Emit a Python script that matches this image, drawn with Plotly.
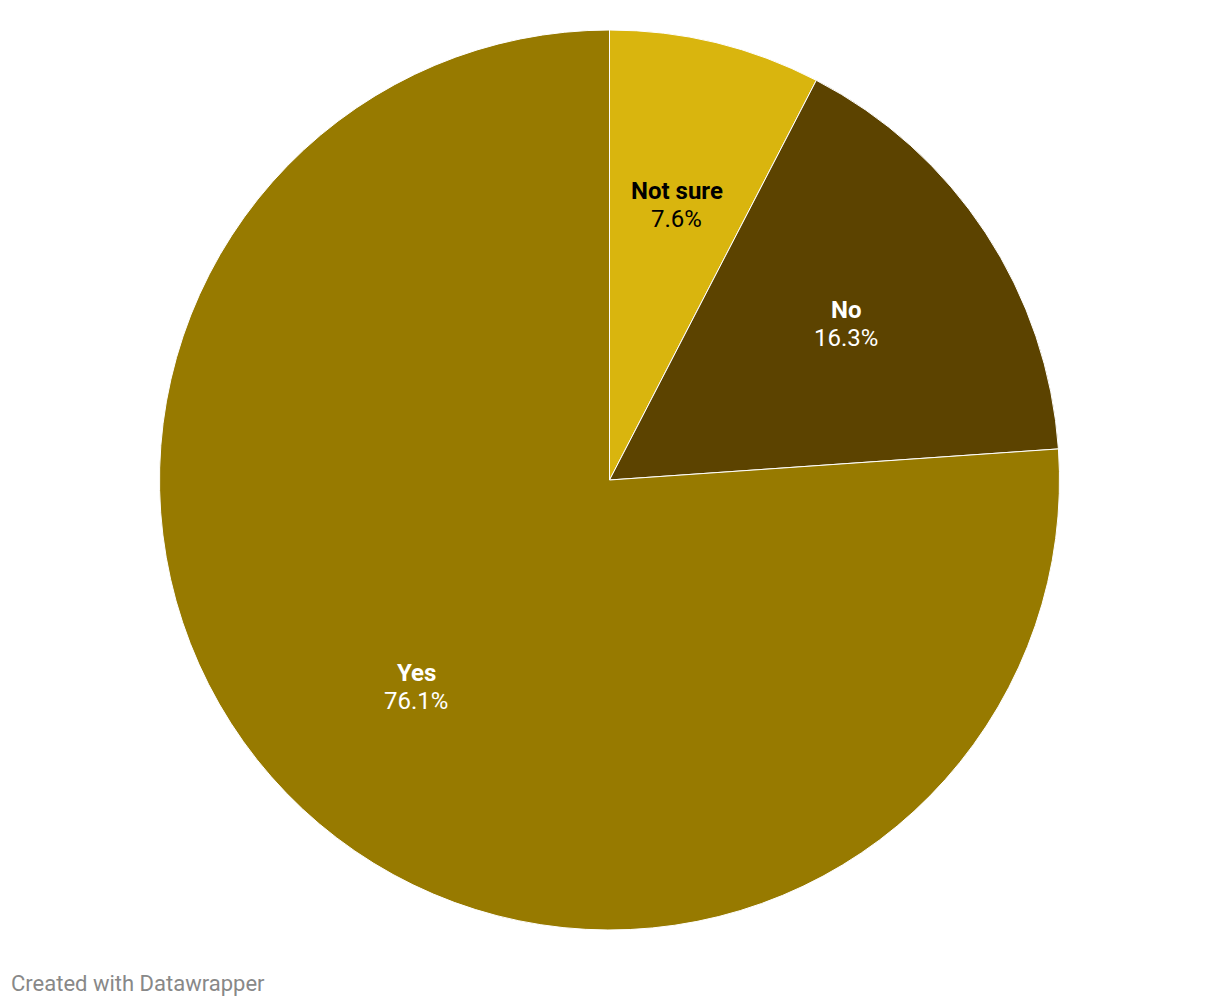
import math

import plotly.graph_objects as go

# Survey answers, clockwise from 12 o'clock
labels = ["Not sure", "No", "Yes"]
values = [7.6, 16.3, 76.1]
colors = ["#d9b50e", "#5c4300", "#977a00"]
text_colors = ["#000000", "#ffffff", "#ffffff"]

W, H = 1220, 1006
OFF = 8  # page body margin pushes the plot down/right by 8px
CX, CY, R = 609.5 - OFF, 480 - OFF, 450  # pie centre and radius in px

fig = go.Figure(go.Pie(
    labels=labels,
    values=values,
    sort=False,
    direction="clockwise",
    rotation=0,
    marker=dict(colors=colors, line=dict(color="#ffffff", width=1)),
    textinfo="none",
    hoverinfo="label+percent",
    domain=dict(x=[(CX - R) / W, (CX + R) / W], y=[1 - (CY + R) / H, 1 - (CY - R) / H]),
))

# labels sit on a ring at ~63% of the radius, at each slice's mid angle
total = sum(values)
cum = 0
for lab, val, tc in zip(labels, values, text_colors):
    mid = (cum + val / 2) / total * 2 * math.pi
    cum += val
    px_x = CX + 0.63 * R * math.sin(mid)
    px_y = CY - 0.63 * R * math.cos(mid)
    for txt, shift in ((f"<b>{lab}</b>", 14), (f"{val:.1f}%", -14)):
        fig.add_annotation(
            x=px_x / W, y=1 - px_y / H, xref="paper", yref="paper",
            xanchor="center", yanchor="middle", yshift=shift,
            text=txt,
            showarrow=False,
            font=dict(family="Roboto", size=24, color=tc),
        )

fig.add_annotation(
    x=1 / W, y=1 - (983 - OFF) / H, xref="paper", yref="paper",
    xanchor="left", yanchor="middle",
    text="Created with Datawrapper",
    showarrow=False,
    font=dict(family="Roboto", size=22, color="#888888"),
)

fig.update_layout(
    width=W, height=H,
    margin=dict(l=0, r=0, t=0, b=0),
    showlegend=False,
    paper_bgcolor="#ffffff",
    plot_bgcolor="#ffffff",
    font=dict(family="Roboto"),
)

fig.write_html("out.html")
